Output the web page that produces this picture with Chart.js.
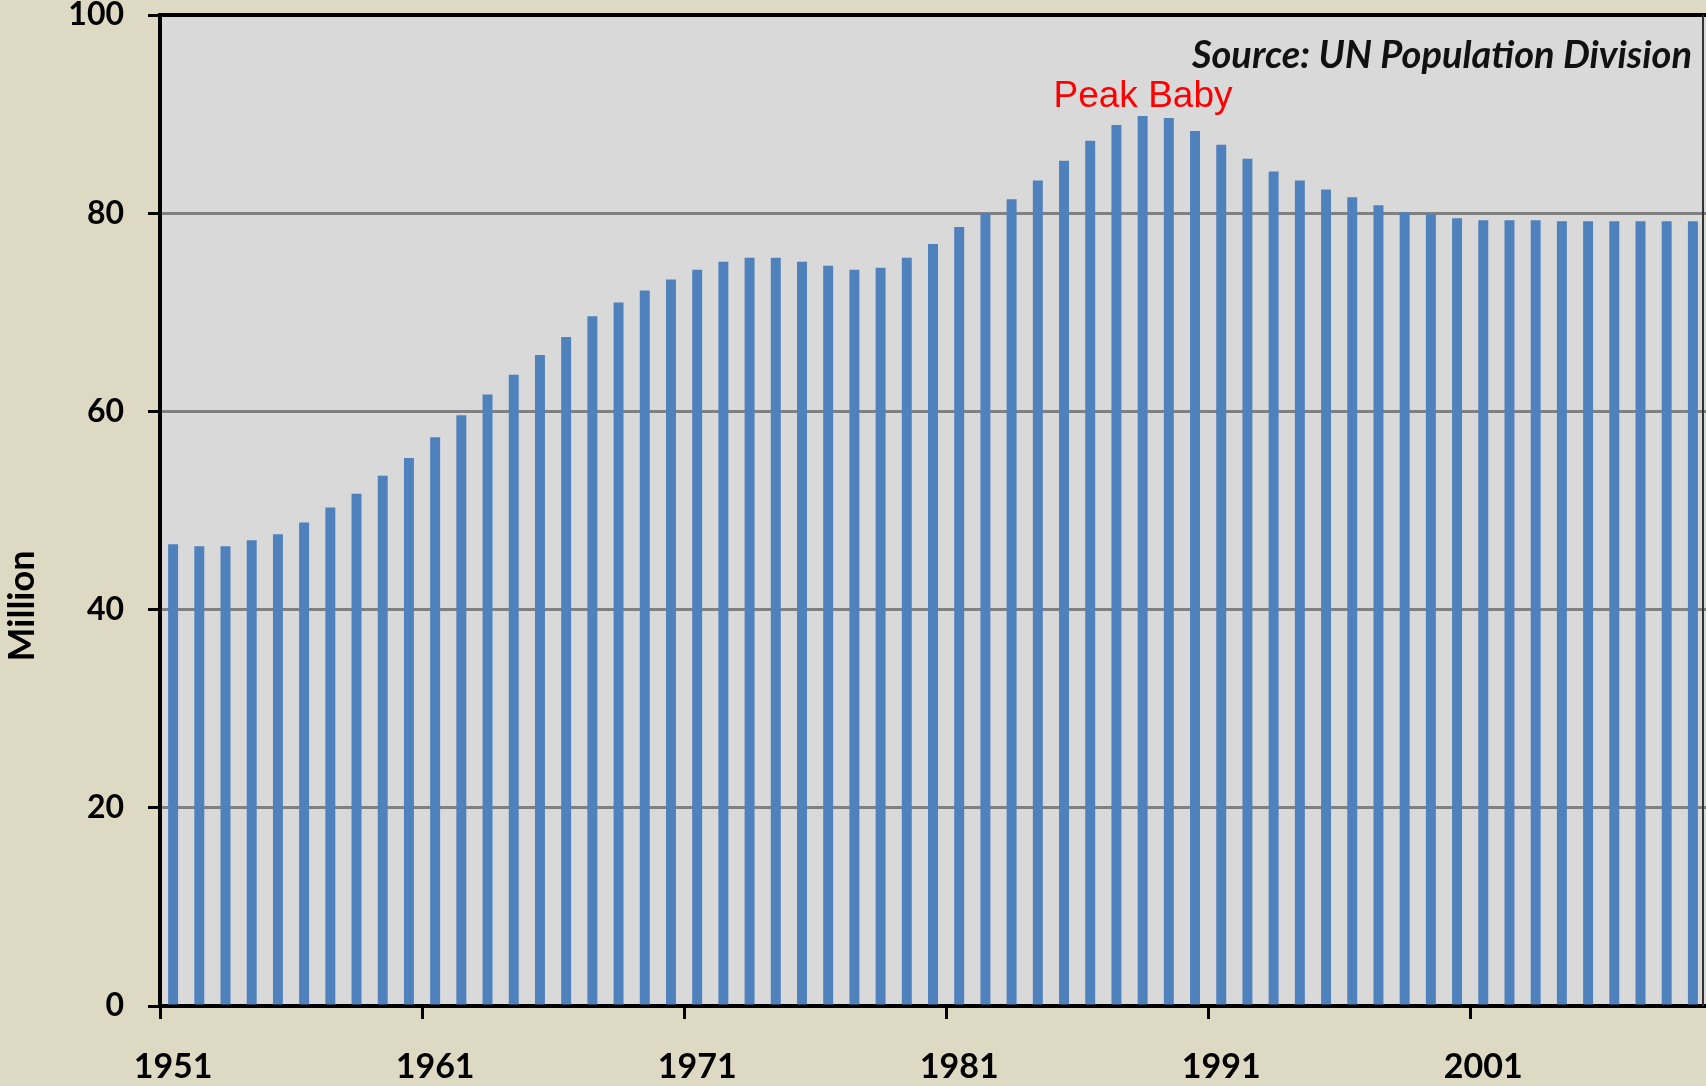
<!DOCTYPE html>
<html>
<head>
<meta charset="utf-8">
<script src="https://cdn.jsdelivr.net/npm/chart.js@4/dist/chart.umd.min.js"></script>
<style>
  html, body { margin: 0; padding: 0; background: #DDD9C3; }
  #wrap { width: 1706px; height: 1086px; position: relative; }
</style>
</head>
<body>
<div id="wrap"><canvas id="c"></canvas></div>
<script>
// ---- Data (births, million) ----
const years = ['1951','1952','1953','1954','1955','1956','1957','1958','1959','1960',
               '1961','1962','1963','1964','1965','1966','1967','1968','1969','1970',
               '1971','1972','1973','1974','1975','1976','1977','1978','1979','1980',
               '1981','1982','1983','1984','1985','1986','1987','1988','1989','1990',
               '1991','1992','1993','1994','1995','1996','1997','1998','1999','2000',
               '2001','2002','2003','2004','2005','2006','2007','2008','2009'];
const births = [46.6, 46.4, 46.4, 47.0, 47.6, 48.8, 50.3, 51.7, 53.5, 55.3,
                57.4, 59.6, 61.7, 63.7, 65.7, 67.5, 69.6, 71.0, 72.2, 73.3,
                74.3, 75.1, 75.5, 75.5, 75.1, 74.7, 74.3, 74.5, 75.5, 76.9,
                78.6, 80.0, 81.4, 83.3, 85.3, 87.3, 88.9, 89.8, 89.6, 88.3,
                86.9, 85.5, 84.2, 83.3, 82.4, 81.6, 80.8, 80.1, 79.9, 79.5,
                79.3, 79.3, 79.3, 79.2, 79.2, 79.2, 79.2, 79.2, 79.2];
const xTickLabels = ['1951','1961','1971','1981','1991','2001'];
const yTickValues = [0, 20, 40, 60, 80, 100];
const yAxisTitle = 'Million';
const sourceText = 'Source: UN Population Division';
const peakText = 'Peak Baby';

const decor = {
  id: 'decor',
  beforeDraw(chart) {
    const { ctx, chartArea: a } = chart;
    ctx.save();
    ctx.fillStyle = '#DDD9C3';
    ctx.fillRect(0, 0, chart.width, chart.height);
    ctx.fillStyle = '#D9D9D9';
    ctx.fillRect(a.left, a.top, a.right - a.left, a.bottom - a.top);
    ctx.restore();
  },
  afterDraw(chart) {
    const { ctx, chartArea: a } = chart;
    ctx.save();
    // top frame
    ctx.strokeStyle = '#000';
    ctx.lineWidth = 4;
    ctx.beginPath();
    ctx.moveTo(a.left - 2, a.top);
    ctx.lineTo(a.right, a.top);
    ctx.stroke();
    // right frame
    ctx.strokeStyle = '#333';
    ctx.lineWidth = 2;
    ctx.beginPath();
    ctx.moveTo(a.right - 3, a.top);
    ctx.lineTo(a.right - 3, a.bottom);
    ctx.stroke();
    // y axis title
    ctx.fillStyle = '#000';
    ctx.font = 'bold 36px Lato';
    ctx.textAlign = 'center';
    ctx.textBaseline = 'middle';
    ctx.translate(22, 606);
    ctx.rotate(-Math.PI / 2);
    ctx.fillText(yAxisTitle, 0, 0);
    ctx.restore();

    ctx.save();
    ctx.fillStyle = '#111';
    ctx.font = 'italic bold 38px Lato';
    ctx.textAlign = 'right';
    ctx.textBaseline = 'alphabetic';
    ctx.fillText(sourceText, 1692, 68);
    ctx.fillStyle = '#FF0000';
    ctx.font = '37px "Liberation Sans", Arial, sans-serif';
    ctx.textAlign = 'center';
    ctx.fillText(peakText, 1143, 107);
    ctx.restore();
  }
};

new Chart(document.getElementById('c'), {
  type: 'bar',
  data: {
    labels: years,
    datasets: [{
      data: births,
      backgroundColor: '#4F81BD',
      borderWidth: 0,
      barPercentage: 0.38,
      categoryPercentage: 1.0
    }]
  },
  options: {
    responsive: true,
    maintainAspectRatio: false,
    animation: false,
    layout: { padding: { top: 15, right: 0, bottom: 0, left: 0 } },
    plugins: { legend: { display: false }, tooltip: { enabled: false } },
    scales: {
      x: {
        offset: true,
        grid: {
          offset: true,
          display: true,
          drawOnChartArea: false,
          drawTicks: true,
          tickLength: 13,
          tickWidth: 3,
          tickColor: (c) => (c.index % 10 === 0 ? '#000' : 'rgba(0,0,0,0)')
        },
        border: { display: true, color: '#000', width: 4 },
        ticks: {
          autoSkip: false,
          maxRotation: 0,
          minRotation: 0,
          padding: 28,
          color: '#000',
          font: { family: 'Lato', weight: 'bold', size: 34 },
          callback: (v, i) => (xTickLabels.includes(years[i]) ? years[i] : '')
        },
        afterFit: (s) => { s.height = 80; s.paddingLeft = 0; s.paddingRight = 0; }
      },
      y: {
        min: 0,
        max: 100,
        afterBuildTicks: (s) => { s.ticks = yTickValues.map(v => ({ value: v })); },
        grid: {
          color: '#808080',
          lineWidth: 3,
          drawTicks: true,
          tickLength: 12,
          tickWidth: 3,
          tickColor: '#000'
        },
        border: { display: true, color: '#000', width: 4 },
        ticks: {
          padding: 24,
          color: '#000',
          font: { family: 'Lato', weight: 'bold', size: 32 }
        },
        afterFit: (s) => { s.width = 160; s.paddingTop = 0; s.paddingBottom = 0; }
      }
    }
  },
  plugins: [decor]
});
</script>
</body>
</html>
